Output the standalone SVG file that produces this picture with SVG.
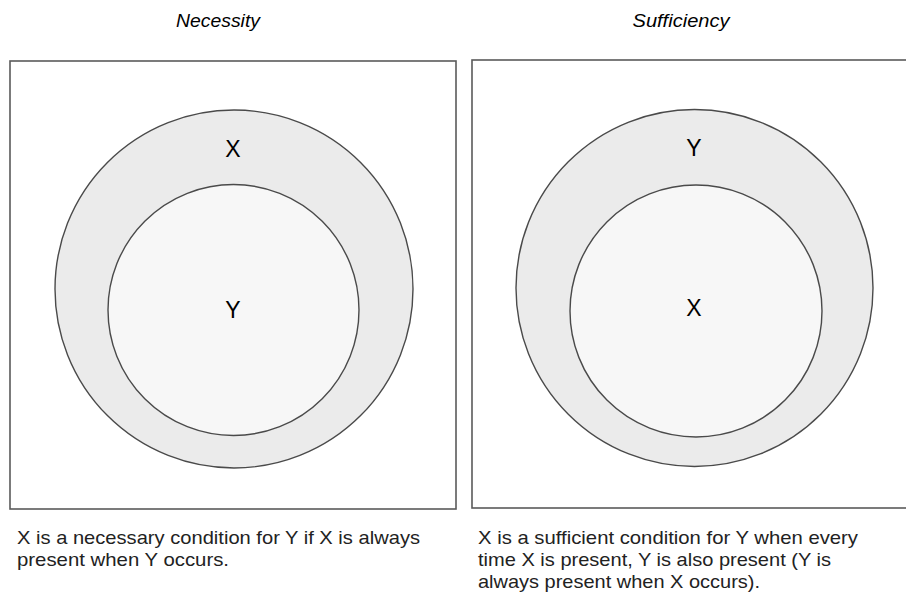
<svg xmlns="http://www.w3.org/2000/svg" width="906" height="594" viewBox="0 0 906 594">
<style>
.frame{fill:#fff;stroke:#5a5a5a;stroke-width:1.6}
.outer{fill:#ebebeb;stroke:#4a4a4a;stroke-width:1.4}
.inner{fill:#f7f7f7;stroke:#4a4a4a;stroke-width:1.4}
.lbl{font-family:"Liberation Sans",Arial,sans-serif;font-size:23px;fill:#000;text-anchor:middle}
.title{font-family:"Liberation Sans",Arial,sans-serif;font-size:19px;font-style:italic;fill:#000;text-anchor:middle}
.cap{font-family:"Liberation Sans",Arial,sans-serif;font-size:19px;fill:#222}
</style>
<rect width="906" height="594" fill="#fff"/>
<g id="necessity">
<text class="title" x="218" y="27" textLength="84" lengthAdjust="spacingAndGlyphs">Necessity</text>
<rect class="frame" x="10" y="61" width="446" height="448"/>
<circle class="outer" cx="234" cy="289" r="179"/>
<circle class="inner" cx="233.5" cy="310" r="125.5"/>
<text class="lbl" x="233" y="157">X</text>
<text class="lbl" x="233" y="318">Y</text>
<text class="cap" x="17" y="544" textLength="403" lengthAdjust="spacingAndGlyphs">X is a necessary condition for Y if X is always</text>
<text class="cap" x="17" y="566" textLength="212" lengthAdjust="spacingAndGlyphs">present when Y occurs.</text>
</g>
<g id="sufficiency">
<text class="title" x="681" y="27" textLength="97" lengthAdjust="spacingAndGlyphs">Sufficiency</text>
<rect class="frame" x="472" y="60" width="440" height="448"/>
<circle class="outer" cx="694.5" cy="288" r="178.5"/>
<circle class="inner" cx="696" cy="311" r="126"/>
<text class="lbl" x="694" y="156">Y</text>
<text class="lbl" x="694" y="316">X</text>
<text class="cap" x="478" y="544" textLength="380" lengthAdjust="spacingAndGlyphs">X is a sufficient condition for Y when every</text>
<text class="cap" x="478" y="566" textLength="353" lengthAdjust="spacingAndGlyphs">time X is present, Y is also present (Y is</text>
<text class="cap" x="478" y="588" textLength="282" lengthAdjust="spacingAndGlyphs">always present when X occurs).</text>
</g>
<g id="connectors"></g>
</svg>
